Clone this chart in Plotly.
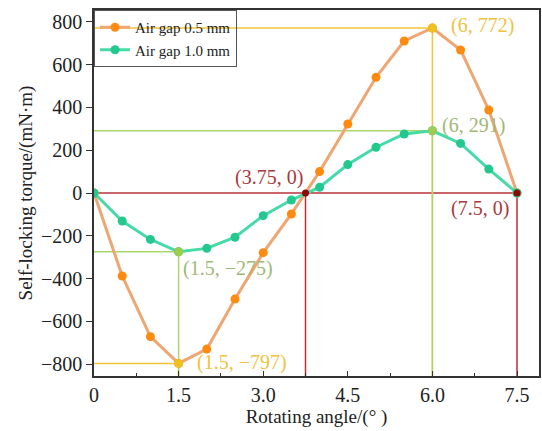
import plotly.graph_objects as go

angles = [0, 0.5, 1.0, 1.5, 2.0, 2.5, 3.0, 3.5, 4.0, 4.5, 5.0, 5.5, 6.0, 6.5, 7.0, 7.5]
torque_05 = [0, -388, -672, -797, -730, -496, -279, -98, 100, 323, 541, 711, 772, 669, 388, 0]
torque_10 = [0, -131, -217, -275, -259, -207, -106, -33, 27, 133, 214, 276, 291, 232, 112, 0]

x_ticks = [0, 1.5, 3.0, 4.5, 6.0, 7.5]
x_ticktext = ["0", "1.5", "3.0", "4.5", "6.0", "7.5"]
y_ticks = [-800, -600, -400, -200, 0, 200, 400, 600, 800]

# key points
zero_x = [3.75, 7.5]
peak_05 = (6, 772)
valley_05 = (1.5, -797)
peak_10 = (6, 291)
valley_10 = (1.5, -275)

X_RANGE = [0, 7.89]
Y_RANGE = [-856, 856]
Y_BOT = Y_RANGE[0]

RED = "#b8323a"
DARKRED = "#8a0a0a"
GOLD = "#f2c43a"
LGREEN = "#a8d86a"
FONT = "Liberation Serif"

fig = go.Figure()

def ref_line(xs, ys, color):
    fig.add_trace(go.Scatter(x=xs, y=ys, mode="lines", line=dict(color=color, width=1.5),
                             showlegend=False, hoverinfo="skip"))

# red lines
ref_line([0, zero_x[1]], [0, 0], RED)
for zx in zero_x:
    ref_line([zx, zx], [0, Y_BOT], RED)
# gold lines
ref_line([0, peak_05[0], peak_05[0]], [peak_05[1], peak_05[1], Y_BOT], GOLD)
ref_line([0, valley_05[0], valley_05[0]], [valley_05[1], valley_05[1], Y_BOT], GOLD)
# light green lines
ref_line([0, peak_10[0], peak_10[0]], [peak_10[1], peak_10[1], Y_BOT], LGREEN)
ref_line([0, valley_10[0], valley_10[0]], [valley_10[1], valley_10[1], Y_BOT], LGREEN)

fig.add_trace(go.Scatter(x=angles, y=torque_05, mode="lines+markers", name="Air gap 0.5 mm",
                         line=dict(color="#eea672", width=3),
                         marker=dict(color="#ff8a10", size=9)))
fig.add_trace(go.Scatter(x=angles, y=torque_10, mode="lines+markers", name="Air gap 1.0 mm",
                         line=dict(color="#46dba6", width=3),
                         marker=dict(color="#22c88e", size=9)))

# key point markers
fig.add_trace(go.Scatter(x=zero_x, y=[0, 0], mode="markers", marker=dict(color=DARKRED, size=7),
                         showlegend=False))
fig.add_trace(go.Scatter(x=[peak_05[0], valley_05[0]], y=[peak_05[1], valley_05[1]], mode="markers",
                         marker=dict(color="#f0c020", size=9), showlegend=False))
fig.add_trace(go.Scatter(x=[peak_10[0], valley_10[0]], y=[peak_10[1], valley_10[1]], mode="markers",
                         marker=dict(color="#9ccc50", size=9), showlegend=False))

def fmt(v):
    return str(v).replace("-", "\u2212")

anns = [
    (peak_05, "#efc240", "left", "middle", 17, 2),
    (peak_10, "#9fb877", "left", "middle", 8, 5),
    (valley_10, "#a0b878", "left", "middle", 2, -17),
    (valley_05, "#efc240", "left", "middle", 16, 1),
    ((zero_x[0], 0), "#a8383c", "right", "bottom", -1, 2),
    ((zero_x[1], 0), "#a8383c", "right", "top", -6, -2),
]
for (px, py), col, xa, ya, dx, dy in anns:
    fig.add_annotation(x=px, y=py, text=f"({fmt(px)}, {fmt(py)})", showarrow=False,
                       xanchor=xa, yanchor=ya, xshift=dx, yshift=dy,
                       font=dict(family=FONT, size=20, color=col))

axis_common = dict(showline=True, linecolor="#333333", linewidth=1.5, mirror=True,
                   showgrid=False, zeroline=False,
                   tickfont=dict(family=FONT, size=20, color="#222222"),
                   tickcolor="#333333")

fig.update_xaxes(range=X_RANGE, tickvals=x_ticks, ticktext=x_ticktext, ticks="inside", ticklen=5,
                 minor=dict(ticks="inside", ticklen=3, dtick=0.75, tick0=0, tickcolor="#333333"),
                 title=dict(text="Rotating angle/(° )", font=dict(family=FONT, size=19, color="#222222"), standoff=4),
                 **axis_common)
fig.update_yaxes(range=Y_RANGE, tickvals=y_ticks, ticks="outside", ticklen=6,
                 title=dict(text="Self-locking torque/(mN·m)", font=dict(family=FONT, size=19, color="#222222"), standoff=3),
                 **axis_common)

fig.update_layout(
    width=542, height=431,
    margin=dict(l=94, r=1, t=10, b=55),
    plot_bgcolor="white", paper_bgcolor="white",
    showlegend=True,
    legend=dict(x=0, y=1, xanchor="left", yanchor="top", bgcolor="rgba(0,0,0,0)",
                bordercolor="#555555", borderwidth=1,
                font=dict(family=FONT, size=15, color="#222222"),
                tracegroupgap=0, itemwidth=30),
    font=dict(family=FONT),
)

fig.write_html("out.html")
